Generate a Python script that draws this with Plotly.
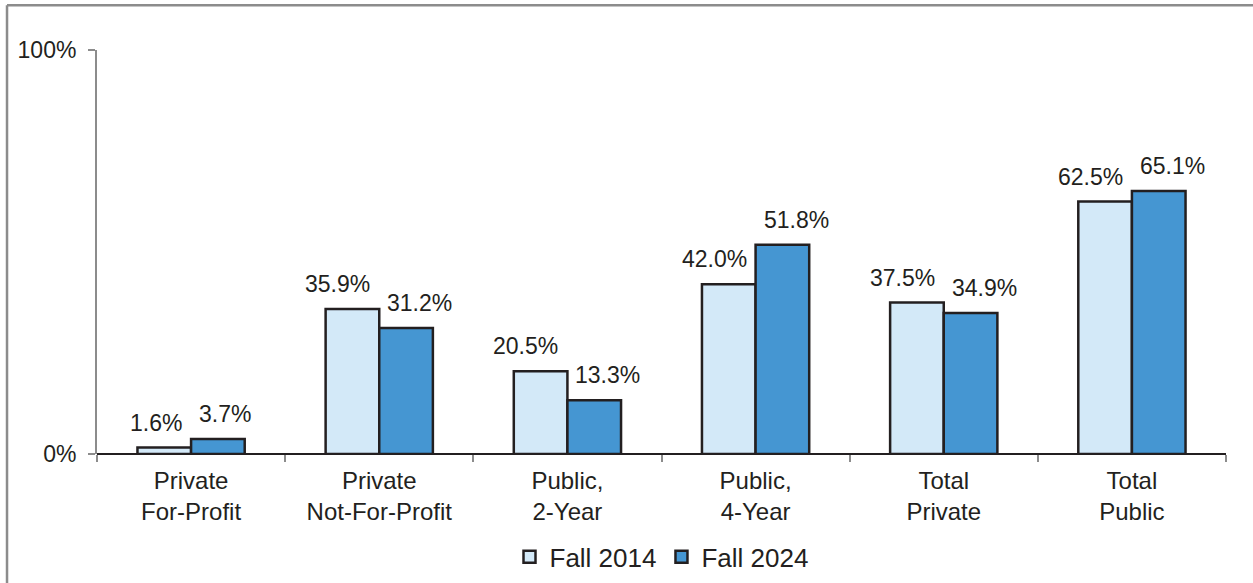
import plotly.graph_objects as go

categories = ["Private<br>For-Profit", "Private<br>Not-For-Profit", "Public,<br>2-Year",
              "Public,<br>4-Year", "Total<br>Private", "Total<br>Public"]
series_names = ["Fall 2014", "Fall 2024"]
fall_2014 = [1.6, 35.9, 20.5, 42.0, 37.5, 62.5]
fall_2024 = [3.7, 31.2, 13.3, 51.8, 34.9, 65.1]
y_tickvals = [0, 100]
y_ticktext = ["0%", "100%"]

TXT = "#231f20"
FONT = "Liberation Sans, Arial, sans-serif"
colors = ["#d3e9f8", "#4596d2"]

fig = go.Figure()
for name, vals, col in zip(series_names, [fall_2014, fall_2024], colors):
    fig.add_trace(go.Bar(
        x=categories, y=vals, name=name,
        marker=dict(color=col, line=dict(color=TXT, width=2.5)),
    ))

annotations = []
for vals, anchor, shift in [(fall_2014, "right", -7), (fall_2024, "left", 6)]:
    for c, v in zip(categories, vals):
        annotations.append(dict(
            x=c, y=v, xref="x", yref="y", text=f"{v:.1f}%", showarrow=False,
            xanchor=anchor, yanchor="bottom", xshift=shift, yshift=10,
            font=dict(family=FONT, size=23, color=TXT),
        ))

# outer frame lines (partially cropped chart border)
shapes = [
    dict(type="line", xref="paper", yref="paper", x0=-0.0797, x1=1.1, y0=1.111, y1=1.111,
         line=dict(color="#8c8c8c", width=2.5)),
    dict(type="line", xref="paper", yref="paper", x0=-0.0797, x1=-0.0797, y0=1.111, y1=-0.4,
         line=dict(color="#8c8c8c", width=2.5)),
]

fig.update_layout(
    width=1253, height=583,
    margin=dict(l=97, r=27, t=50, b=129, autoexpand=False),
    paper_bgcolor="white", plot_bgcolor="white",
    barmode="group", bargap=0.43, bargroupgap=0,
    font=dict(family=FONT, size=23, color=TXT),
    annotations=annotations, shapes=shapes,
    legend=dict(orientation="h", x=0.5, xanchor="center",
                yref="container", y=0.045, yanchor="middle",
                font=dict(family=FONT, size=26, color=TXT), itemwidth=30,
                traceorder="normal"),
    xaxis=dict(tickson="boundaries", ticks="outside", ticklen=7, tickcolor="#8c8c8c",
               tickwidth=2, showline=False, showgrid=False, automargin=False,
               ticklabelstandoff=10,
               tickfont=dict(family=FONT, size=24, color=TXT)),
    yaxis=dict(range=[0, 100], tickvals=y_tickvals, ticktext=y_ticktext,
               showgrid=True, gridcolor="#8c8c8c", gridwidth=2, automargin=False,
               zeroline=True, zerolinecolor=TXT, zerolinewidth=1.5,
               showline=True, linecolor="#8c8c8c", linewidth=2,
               ticks="outside", ticklen=7, tickcolor="#8c8c8c", tickwidth=2,
               ticklabelstandoff=7,
               tickfont=dict(family=FONT, size=23, color=TXT)),
)

fig.write_html("out.html", config={"displayModeBar": False},
               post_script="document.body.style.margin='0';document.body.style.overflow='hidden';")
